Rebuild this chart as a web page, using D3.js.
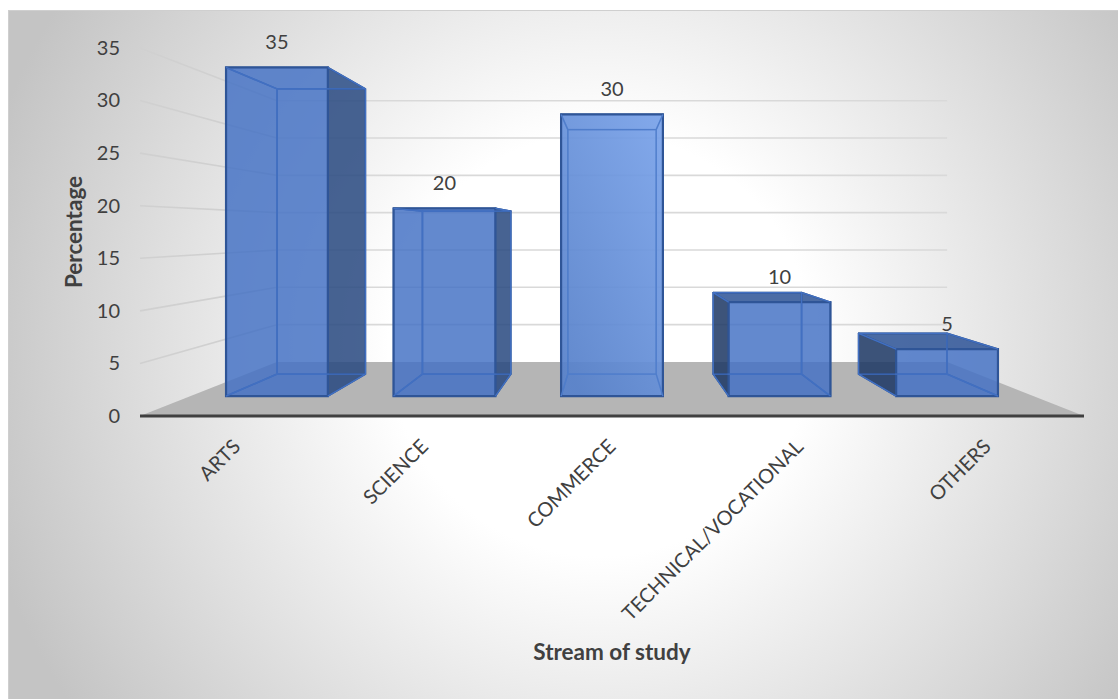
<!DOCTYPE html>
<html>
<head>
<meta charset="utf-8">
<title>Stream of study</title>
<script src="https://d3js.org/d3.v7.min.js"></script>
<style>
html, body { margin: 0; padding: 0; background: #fff; }
svg { display: block; }
text { font-family: Lato, sans-serif; fill: #404040; }
</style>
</head>
<body>
<div id="chart"></div>
<script>
// values
var categories = ["ARTS", "SCIENCE", "COMMERCE", "TECHNICAL/VOCATIONAL", "OTHERS"];
var percentages = [35, 20, 30, 10, 5];
var yTicks = [0, 5, 10, 15, 20, 25, 30, 35];

var width = 1118, height = 699;

var svg = d3.select("#chart").append("svg")
    .attr("width", width)
    .attr("height", height);

var defs = svg.append("defs");

var bg = defs.append("radialGradient").attr("id", "bg")
    .attr("gradientUnits", "userSpaceOnUse")
    .attr("cx", 600).attr("cy", 345).attr("r", 640);
bg.append("stop").attr("offset", "0.33").attr("stop-color", "#ffffff");
bg.append("stop").attr("offset", "1").attr("stop-color", "#c4c4c4");

// the middle bar catches the light in the original
var lit = defs.append("linearGradient").attr("id", "lit")
    .attr("x1", 1).attr("y1", 0).attr("x2", 0.2).attr("y2", 1);
lit.append("stop").attr("offset", "0").attr("stop-color", "#7aa3ea");
lit.append("stop").attr("offset", "1").attr("stop-color", "#5882cb");

svg.append("rect")
    .attr("x", 8.5).attr("y", 10.5)
    .attr("width", width - 8).attr("height", height - 10)
    .attr("fill", "url(#bg)")
    .attr("stroke", "#cfcfcf");

// front plane scales, everything else is projected from these
var x = d3.scaleBand().domain(categories).range([143, 1081]);
var y = d3.scaleLinear().domain([0, 35]).range([416, 48]);

var vanishX = 612, vanishY = 229.7;
var wallDepth = 0.71, barFront = 0.893, barBack = 0.775;
var barWidth = 114;

function project(px, value, s) {
  return [vanishX + (px - vanishX) * s, vanishY + (y(value) - vanishY) * s];
}

// floor
svg.append("path")
    .attr("d", d3.line()([
      project(140, 0, 1), project(1084, 0, 1),
      project(1084, 0, wallDepth), project(140, 0, wallDepth)
    ]) + "Z")
    .attr("fill", "#b5b5b5");

// gridlines, side wall
svg.append("g").selectAll("path")
    .data(yTicks.slice(1))
    .join("path")
    .attr("d", function(d) {
      return d3.line()([project(140, d, 1), project(140, d, wallDepth)]);
    })
    .attr("fill", "none")
    .attr("stroke", "#d0d0d0")
    .attr("stroke-width", 1.6);

// gridlines, back wall
svg.append("g").selectAll("path")
    .data(yTicks.slice(1))
    .join("path")
    .attr("d", function(d) {
      return d3.line()([project(140, d, wallDepth), project(1084, d, wallDepth)]);
    })
    .attr("fill", "none")
    .attr("stroke", "#d9d9d9")
    .attr("stroke-width", 1.6);

svg.append("line")
    .attr("x1", 140).attr("x2", 1084)
    .attr("y1", y(0)).attr("y2", y(0))
    .attr("stroke", "#404040")
    .attr("stroke-width", 3);

// bars
var bars = svg.append("g").selectAll("g")
    .data(categories)
    .join("g");

bars.each(function(name, i) {
  var g = d3.select(this);
  var v = percentages[i];
  var cx = x(name) + x.bandwidth() / 2;
  var l = cx - barWidth / 2, r = cx + barWidth / 2;

  var flb = project(l, 0, barFront), frb = project(r, 0, barFront),
      flt = project(l, v, barFront), frt = project(r, v, barFront),
      blb = project(l, 0, barBack), brb = project(r, 0, barBack),
      blt = project(l, v, barBack), brt = project(r, v, barBack);

  var leftOut = blb[0] < flb[0], rightOut = brb[0] > frb[0], topOut = blt[1] < flt[1];
  var isLit = name === "COMMERCE";

  function face(pts, fill, opacity) {
    g.append("path")
      .attr("d", d3.line()(pts) + "Z")
      .attr("fill", fill)
      .attr("fill-opacity", opacity)
      .attr("stroke", "#2f5597")
      .attr("stroke-opacity", 0.75)
      .attr("stroke-width", 1.6)
      .attr("stroke-linejoin", "round");
  }

  var blue = "#4472c4";
  face([blb, brb, brt, blt], blue, 0.1);
  face([flb, frb, brb, blb], blue, 0.2);
  if (leftOut) face([flb, blb, blt, flt], "#1f3864", 0.85);
  else face([flb, blb, blt, flt], blue, 0.1);
  if (rightOut) face([frb, brb, brt, frt], "#2a4a80", 0.85);
  else face([frb, brb, brt, frt], blue, 0.1);
  if (topOut) face([flt, frt, brt, blt], "#2f5597", 0.85);
  else face([flt, frt, brt, blt], blue, 0.1);

  g.append("path")
    .attr("d", d3.line()([flb, frb, frt, flt]) + "Z")
    .attr("fill", isLit ? "url(#lit)" : blue)
    .attr("fill-opacity", isLit ? 0.92 : 0.82)
    .attr("stroke", "#2f5597")
    .attr("stroke-width", 2.2);

  // see through edges of the back box on top of the front face
  var inner = isLit ? "#4f7dcb" : "#4270c2";
  g.append("path")
    .attr("d", d3.line()([blb, brb, brt, blt]) + "Z" +
      d3.line()([flb, blb]) + d3.line()([frb, brb]) +
      d3.line()([flt, blt]) + d3.line()([frt, brt]))
    .attr("fill", "none")
    .attr("stroke", inner)
    .attr("stroke-width", 1.3);

  g.append("text")
    .attr("x", (flt[0] + frt[0]) / 2)
    .attr("y", flt[1] - 25)
    .attr("dy", "0.35em")
    .attr("text-anchor", "middle")
    .attr("font-size", 20)
    .text(v);
});

// y axis labels
var yAxis = d3.axisLeft(y).tickValues(yTicks).tickSize(0).tickPadding(0);
var yG = svg.append("g")
    .attr("transform", "translate(120,0)")
    .call(yAxis);
yG.select(".domain").remove();
yG.selectAll("text")
    .attr("font-size", 20)
    .style("font-family", "Lato, sans-serif")
    .attr("fill", "#404040");

// x labels, rotated
svg.append("g").selectAll("text")
    .data(categories)
    .join("text")
    .attr("transform", function(d) {
      return "translate(" + (x(d) + x.bandwidth() / 2 - 5) + ",438) rotate(-45)";
    })
    .attr("text-anchor", "end")
    .attr("dy", "0.7em")
    .attr("font-size", 20)
    .text(function(d) { return d; });

svg.append("text")
    .attr("transform", "translate(74,232) rotate(-90)")
    .attr("text-anchor", "middle")
    .attr("dy", "0.35em")
    .attr("font-size", 22.5)
    .attr("font-weight", "bold")
    .text("Percentage");

svg.append("text")
    .attr("x", 612).attr("y", 652)
    .attr("text-anchor", "middle")
    .attr("dy", "0.35em")
    .attr("font-size", 22.5)
    .attr("font-weight", "bold")
    .text("Stream of study");
</script>
</body>
</html>
